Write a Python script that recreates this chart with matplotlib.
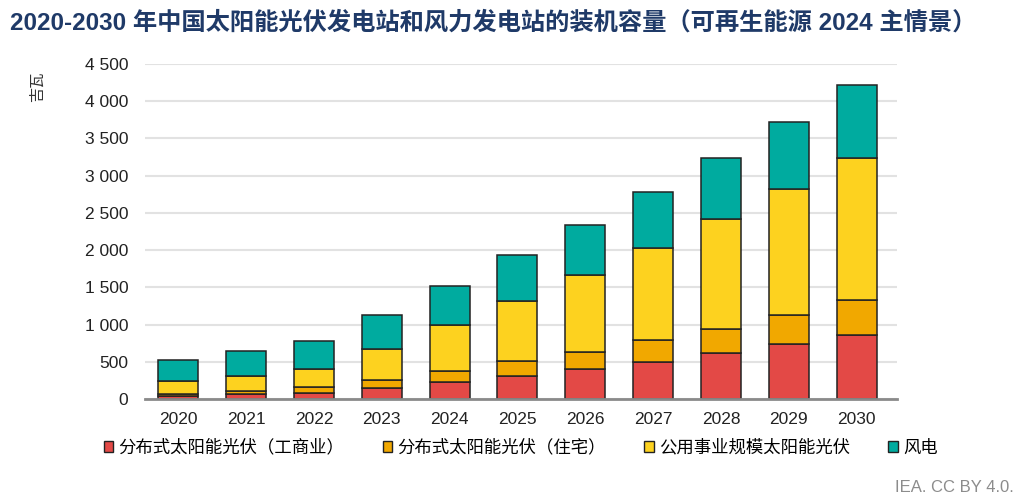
import matplotlib
matplotlib.use("Agg")
import matplotlib.pyplot as plt
from matplotlib.ticker import FuncFormatter, MultipleLocator
from matplotlib.patches import Patch
import numpy as np

plt.rcParams['font.family'] = ['Liberation Sans', 'Noto Sans CJK SC', 'DejaVu Sans']

# Data (GW)
years = ['2020', '2021', '2022', '2023', '2024', '2025',
         '2026', '2027', '2028', '2029', '2030']
pv_commercial = [40, 62, 85, 142, 228, 309, 398, 497, 612, 733, 859]
pv_residential = [27, 45, 71, 113, 148, 201, 237, 290, 332, 395, 465]
pv_utility = [179, 206, 251, 411, 622, 810, 1034, 1245, 1473, 1687, 1907]
wind = [282, 337, 372, 457, 524, 618, 668, 748, 814, 905, 981]

series_labels = ['分布式太阳能光伏（工商业）', '分布式太阳能光伏（住宅）',
                 '公用事业规模太阳能光伏', '风电']
colors = ['#E34946', '#F1A800', '#FDD21F', '#00AB9F']

fig = plt.figure(figsize=(10.26, 5.04), dpi=100)
ax = fig.add_axes([0.1413, 0.2083, 0.7327, 0.6647])

# stacked bars
x = np.arange(len(years))
bottom = np.zeros(len(years))
for vals, c in zip([pv_commercial, pv_residential, pv_utility, wind], colors):
    ax.bar(x, vals, bottom=bottom, width=0.59, color=c,
           edgecolor='#222222', linewidth=1.1, zorder=3)
    bottom += np.array(vals)

ax.set_xlim(-0.49, 10.59)
ax.set_ylim(0, 4500)
ax.yaxis.set_major_locator(MultipleLocator(500))
ax.yaxis.set_major_formatter(FuncFormatter(lambda v, p: f"{int(v):,}".replace(',', ' ')))
ax.set_xticks(x)
ax.set_xticklabels(years)
ax.tick_params(axis='both', length=0, labelsize=12.5, colors='#222222')
ax.tick_params(axis='y', pad=12)
ax.tick_params(axis='x', pad=9)
ax.grid(axis='y', color='#E2E2E2', linewidth=1.5, zorder=0)
for s in ['top', 'right', 'left']:
    ax.spines[s].set_visible(False)
ax.spines['bottom'].set_color('#8A8A8A')
ax.spines['bottom'].set_linewidth(2)
ax.spines['bottom'].set_zorder(4)

fig.text(0.010, 0.955, '2020-2030 年中国太阳能光伏发电站和风力发电站的装机容量（可再生能源 2024 主情景）',
         fontsize=17.5, fontweight='bold', color='#1F3A68',
         family=['Liberation Sans', 'Noto Sans CJK SC'], va='center', ha='left')

fig.text(0.036, 0.827, '吉瓦', rotation=90, fontsize=11, color='#333333',
         family=['Noto Sans CJK SC'], va='center', ha='center')

handles = [Patch(facecolor=c, edgecolor='#222222', linewidth=1) for c in colors]
fig.legend(handles, series_labels, loc='center left', bbox_to_anchor=(0.086, 0.112),
           ncol=4, frameon=False, handlelength=0.55, handleheight=0.6,
           handletextpad=0.3, columnspacing=2.2,
           prop={'family': ['Noto Sans CJK SC'], 'size': 12.5})

fig.text(0.988, 0.033, 'IEA. CC BY 4.0.', fontsize=12, color='#8C8C8C',
         ha='right', va='center')

fig.savefig('out.png', dpi=100)
